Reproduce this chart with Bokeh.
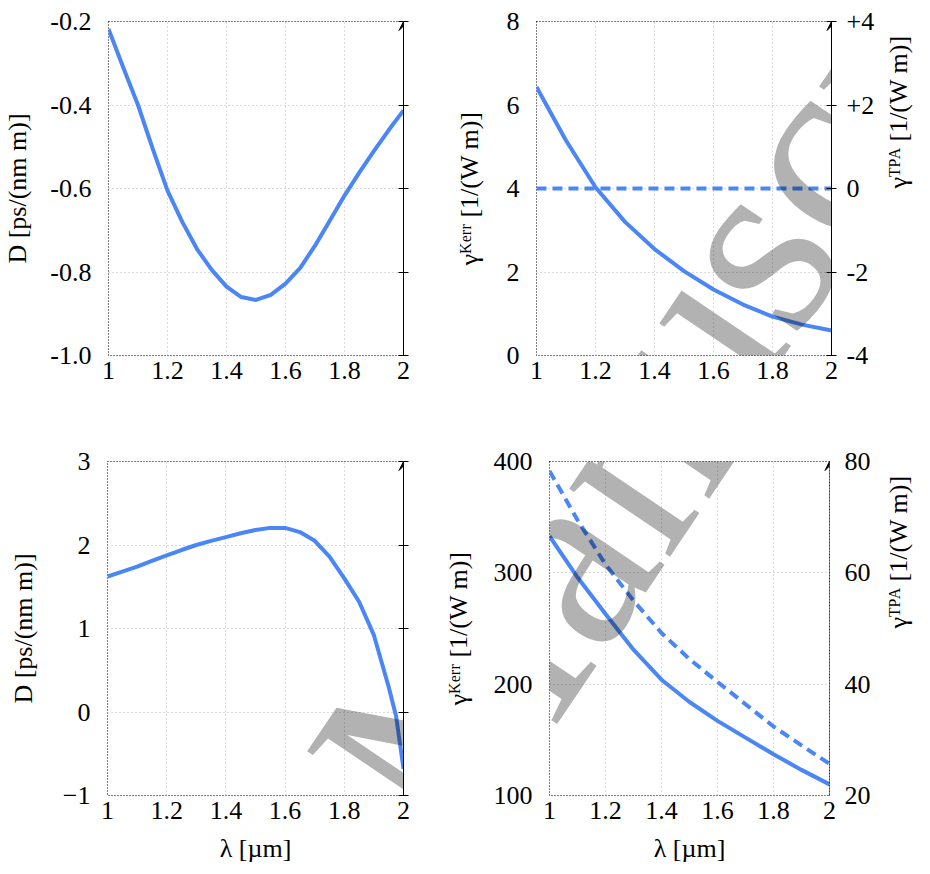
import math
from bokeh.plotting import figure
from bokeh.models import Range1d, LinearAxis, FixedTicker, Label, Arrow, VeeHead
from bokeh.layouts import column, row
from bokeh.embed import file_html
from bokeh.resources import INLINE

# ---------------- data ----------------
x_ticks = [1, 1.2, 1.4, 1.6, 1.8, 2]
x_tick_labels = ["1", "1.2", "1.4", "1.6", "1.8", "2"]

# panel a: dispersion D (top left)
lam_a = [1.00, 1.05, 1.10, 1.15, 1.20, 1.25, 1.30, 1.35, 1.40, 1.45, 1.50,
         1.55, 1.60, 1.65, 1.70, 1.75, 1.80, 1.85, 1.90, 1.95, 2.00]
D_a = [-0.218, -0.31, -0.40, -0.505, -0.605, -0.68, -0.745, -0.795, -0.835, -0.86, -0.867,
       -0.855, -0.828, -0.79, -0.737, -0.677, -0.617, -0.562, -0.51, -0.46, -0.413]
a_yticks = [-1.0, -0.8, -0.6, -0.4, -0.2]
a_ylabels = ["-1.0", "-0.8", "-0.6", "-0.4", "-0.2"]

# panel b: gamma Kerr / TPA (top right)
lam_b = [1.0, 1.1, 1.2, 1.3, 1.4, 1.5, 1.6, 1.7, 1.8, 1.9, 2.0]
gk_b = [6.43, 5.15, 4.03, 3.2, 2.55, 2.02, 1.58, 1.22, 0.93, 0.74, 0.60]
lam_b_tpa = [1.0, 2.0]
gt_b = [0.0, 0.0]
b_yticks = [0, 2, 4, 6, 8]
b_ylabels = ["0", "2", "4", "6", "8"]
b_y2ticks = [-4, -2, 0, 2, 4]
b_y2labels = ["-4", "-2", "0", "+2", "+4"]

# panel c: dispersion D (bottom left)
lam_c = [1.00, 1.05, 1.10, 1.15, 1.20, 1.25, 1.30, 1.35, 1.40, 1.45, 1.50,
         1.55, 1.60, 1.65, 1.70, 1.75, 1.80, 1.85, 1.90, 1.95, 1.975, 2.00]
D_c = [1.623, 1.68, 1.74, 1.81, 1.875, 1.94, 2.0, 2.05, 2.095, 2.14, 2.18,
       2.205, 2.205, 2.155, 2.05, 1.86, 1.60, 1.32, 0.92, 0.30, -0.05, -0.68]
c_yticks = [-1, 0, 1, 2, 3]
c_ylabels = ["\u22121", "0", "1", "2", "3"]

# panel d: gamma Kerr / TPA (bottom right)
lam_d = [1.0, 1.1, 1.2, 1.3, 1.4, 1.5, 1.6, 1.7, 1.8, 1.9, 2.0]
gk_d = [333, 296, 263, 231, 204, 184, 167, 152, 137, 123, 110]
gt_d = [78.3, 69.5, 61.5, 55.0, 49.2, 44.5, 40.4, 36.4, 32.4, 29.0, 25.7]
d_yticks = [100, 200, 300, 400]
d_ylabels = ["100", "200", "300", "400"]
d_y2ticks = [20, 40, 60, 80]
d_y2labels = ["20", "40", "60", "80"]

# axis titles
label_D = "D [ps/(nm m)]"
label_kerr = "\u03b3\u1d37\u1d49\u02b3\u02b3 [1/(W m)]"
label_tpa = "\u03b3\u1d40\u1d3e\u1d2c [1/(W m)]"
label_lam = "\u03bb [\u00b5m]"
watermark = "Manuscript"

# ---------------- styling / layout ----------------
BLUE = "#4a86f5"
FONT = "Liberation Serif"
FS = 26

specs = {
    "a": dict(pos=(0, 0), W=440, H=440, frame=(107, 403, 21, 355), yr=(-1.0, -0.2)),
    "b": dict(pos=(440, 0), W=490, H=440, frame=(536, 833, 21, 355), yr=(0, 8)),
    "c": dict(pos=(0, 440), W=440, H=434, frame=(107, 403, 461, 795), yr=(-1, 3)),
    "d": dict(pos=(440, 440), W=490, H=434, frame=(536, 833, 461, 795), yr=(100, 400)),
}


def conv(s, px, py):
    L, R, T, B = s["frame"]
    y0, y1 = s["yr"]
    return 1 + (px - L) / (R - L), y1 - (py - T) / (B - T) * (y1 - y0)


def style_label(ax, standoff):
    ax.axis_label_text_font = FONT
    ax.axis_label_text_font_size = f"{FS}px"
    ax.axis_label_text_font_style = "normal"
    ax.axis_label_text_color = "black"
    ax.axis_label_standoff = standoff


def make_fig(s, yticks, ylabels, y2=None, y2ticks=None, y2labels=None, right_solid=True):
    L, R, T, B = s["frame"]
    X, Y = s["pos"]
    p = figure(width=s["W"], height=s["H"], x_range=Range1d(1, 2),
               y_range=Range1d(*s["yr"]), output_backend="svg",
               toolbar_location=None, title=None,
               min_border_left=L - X, min_border_right=X + s["W"] - R,
               min_border_top=T - Y, min_border_bottom=Y + s["H"] - B)
    p.background_fill_color = "white"
    p.border_fill_color = "white"
    p.outline_line_color = "black"
    p.outline_line_dash = "1 2"
    p.outline_line_width = 1
    for ax, ticks, labels in ((p.xaxis[0], x_ticks, x_tick_labels),
                              (p.yaxis[0], yticks, ylabels)):
        ax.ticker = FixedTicker(ticks=ticks)
        ax.major_label_overrides = dict(zip(ticks, labels))
        ax.major_tick_line_color = None
        ax.minor_tick_line_color = None
        ax.axis_line_color = None
        ax.major_label_text_font = FONT
        ax.major_label_text_font_size = f"{FS}px"
        ax.major_label_text_color = "black"
    p.xaxis[0].major_label_standoff = 0
    p.yaxis[0].major_label_standoff = 11
    p.xgrid[0].ticker = FixedTicker(ticks=x_ticks[1:-1])
    p.ygrid[0].ticker = FixedTicker(ticks=yticks[1:-1])
    for g in (p.xgrid[0], p.ygrid[0]):
        g.grid_line_color = "#b8b8b8"
        g.grid_line_dash = "1 3"
        g.grid_line_width = 1

    if y2 is not None:
        p.extra_y_ranges = {"y2": Range1d(*y2)}
        rax = LinearAxis(y_range_name="y2", ticker=FixedTicker(ticks=y2ticks),
                         major_label_overrides=dict(zip(y2ticks, y2labels)))
    else:
        rax = LinearAxis(ticker=FixedTicker(ticks=yticks),
                         major_label_overrides={t: "" for t in yticks})
    rax.major_label_text_font = FONT
    rax.major_label_text_font_size = f"{FS}px"
    rax.major_label_text_color = "black"
    rax.major_label_standoff = 10
    rax.minor_tick_line_color = None
    rax.axis_line_color = "black"
    rax.axis_line_width = 1
    if right_solid:
        rax.major_tick_in = 5
        rax.major_tick_out = 5
        rax.major_tick_line_color = "black"
    else:
        rax.axis_line_dash = "1 2"
        rax.major_tick_line_color = None
        rax.major_tick_in = 0
        rax.major_tick_out = 5
    p.add_layout(rax, "right")
    y0, y1 = s["yr"]
    p.add_layout(Arrow(end=VeeHead(size=9, fill_color="black", line_color="black",
                                   line_width=1),
                       x_start=2, y_start=y1 - (y1 - y0) * 0.3, x_end=2, y_end=y1,
                       line_color=None))
    return p, rax


pa, ra = make_fig(specs["a"], a_yticks, a_ylabels)
pa.line(lam_a, D_a, line_color=BLUE, line_width=4, line_join="round")
pa.yaxis[0].axis_label = label_D
style_label(pa.yaxis[0], 15)

pb, rb = make_fig(specs["b"], b_yticks, b_ylabels, y2=(-4, 4), y2ticks=b_y2ticks,
                  y2labels=b_y2labels)
pb.line(lam_b, gk_b, line_color=BLUE, line_width=4, line_join="round")
pb.line(lam_b_tpa, gt_b, line_color=BLUE, line_width=4, line_dash="10 6", y_range_name="y2")
pb.yaxis[0].axis_label = label_kerr
style_label(pb.yaxis[0], 20)
rb.axis_label = label_tpa
style_label(rb, 21)
rb.axis_label_orientation = math.pi / 2

pc, rc = make_fig(specs["c"], c_yticks, c_ylabels)
pc.line(lam_c, D_c, line_color=BLUE, line_width=4, line_join="round")
pc.yaxis[0].axis_label = label_D
style_label(pc.yaxis[0], 22)
pc.xaxis[0].axis_label = label_lam
style_label(pc.xaxis[0], 12)

pd, rd = make_fig(specs["d"], d_yticks, d_ylabels, y2=(20, 80), y2ticks=d_y2ticks,
                  y2labels=d_y2labels, right_solid=False)
pd.line(lam_d, gk_d, line_color=BLUE, line_width=4, line_join="round")
pd.line(lam_d, gt_d, line_color=BLUE, line_width=4, line_dash="10 6", y_range_name="y2")
pd.yaxis[0].axis_label = label_kerr
style_label(pd.yaxis[0], 18)
rd.axis_label = label_tpa
style_label(rd, 25)
rd.axis_label_orientation = math.pi / 2
pd.xaxis[0].axis_label = label_lam
style_label(pd.xaxis[0], 12)

# watermark overlay, drawn in every panel at the same page position
for key, p in (("a", pa), ("b", pb), ("c", pc), ("d", pd)):
    x, y = conv(specs[key], 372, 804)
    p.add_layout(Label(x=x, y=y, text=watermark, angle=math.radians(56),
                       text_align="left", text_baseline="alphabetic",
                       text_font=FONT, text_font_size="265px",
                       text_color="black", text_alpha=0.3))

layout = column(row(pa, pb), row(pc, pd))
open("out.html", "w").write(file_html(layout, INLINE))
